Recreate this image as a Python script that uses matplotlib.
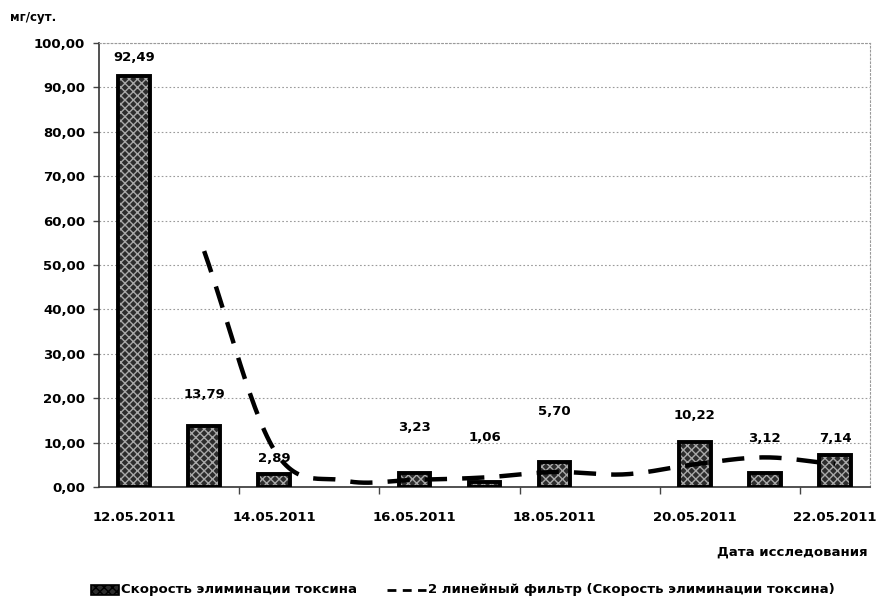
import numpy as np
import matplotlib.pyplot as plt
from matplotlib.ticker import FuncFormatter, FixedLocator

plt.rcParams['font.family'] = ['DejaVu Sans']
plt.rcParams['font.weight'] = 'bold'

# measurement days (index 0 = 12.05.2011), missing days have no bar
days = [0, 1, 2, 4, 5, 6, 8, 9, 10]
values = [92.49, 13.79, 2.89, 3.23, 1.06, 5.70, 10.22, 3.12, 7.14]
date_labels = ['12.05.2011', '14.05.2011', '16.05.2011',
               '18.05.2011', '20.05.2011', '22.05.2011']

# 2-point moving average (empty days counted as zero)
ma_days = [1, 2, 3, 4, 5, 6, 7, 8, 9, 10]
ma_values = [53.14, 8.34, 1.45, 1.62, 2.15, 3.38, 2.85, 5.11, 6.67, 5.13]

# how far each value label sits above its bar (y units), moved clear of the line
label_lift = [4.3, 7.0, 3.6, 10.1, 10.1, 11.3, 5.9, 7.9, 3.8]


def smooth(x, y, n=30):
    # Catmull-Rom spline through the points, like Excel's smoothed line
    x = np.asarray(x, float)
    y = np.asarray(y, float)
    px = np.concatenate([[2 * x[0] - x[1]], x, [2 * x[-1] - x[-2]]])
    py = np.concatenate([[2 * y[0] - y[1]], y, [2 * y[-1] - y[-2]]])
    xs, ys = [], []
    t = np.linspace(0, 1, n)
    for i in range(1, len(px) - 2):
        for p, out in ((px, xs), (py, ys)):
            p0, p1, p2, p3 = p[i - 1], p[i], p[i + 1], p[i + 2]
            out.append(0.5 * (2 * p1 + (-p0 + p2) * t
                              + (2 * p0 - 5 * p1 + 4 * p2 - p3) * t ** 2
                              + (-p0 + 3 * p1 - 3 * p2 + p3) * t ** 3))
    return np.concatenate(xs), np.concatenate(ys)


fig = plt.figure(figsize=(8.78, 6.05), dpi=100)
ax = fig.add_axes([99 / 878, 118 / 605, 771 / 878, 444 / 605])

# textured bars: dark fill with light cross hatching, then a thick outline
ax.bar(days, values, width=0.45, color='#2c2c2c', edgecolor='#a8a8a8',
       hatch='xxxx', linewidth=0, zorder=2)
ax.bar(days, values, width=0.45, fill=False, edgecolor='black',
       linewidth=2.8, zorder=3)

for d, v, lift in zip(days, values, label_lift):
    ax.text(d, v + lift, f'{v:.2f}'.replace('.', ','), ha='center',
            va='center', fontsize=9.5, fontweight='bold', zorder=5)

sx, sy = smooth(ma_days, ma_values)
ax.plot(sx, sy, color='black', linewidth=3.2, dashes=(5, 3.4), zorder=4)

ax.set_xlim(-0.5, 10.5)
ax.set_ylim(0, 100)
ax.yaxis.set_major_locator(FixedLocator(np.arange(0, 101, 10)))
ax.yaxis.set_major_formatter(FuncFormatter(lambda v, p: f'{v:.2f}'.replace('.', ',')))
ax.set_xticks([0, 2, 4, 6, 8, 10])
ax.set_xticklabels(date_labels)
ax.set_xticks([1.5, 3.5, 5.5, 7.5, 9.5], minor=True)
ax.tick_params(axis='x', which='major', length=0, pad=17, labelsize=9.5)
ax.tick_params(axis='x', which='minor', length=5, width=1, color='#444')
ax.tick_params(axis='y', length=4, width=1, color='#444', labelsize=9.5, pad=6)

ax.grid(axis='y', color='#9a9a9a', linestyle=(0, (1.5, 2)), linewidth=0.8, zorder=0)
for side in ('top', 'right'):
    ax.spines[side].set_color('#9a9a9a')
    ax.spines[side].set_linestyle((0, (1.5, 2)))
    ax.spines[side].set_linewidth(0.8)
for side in ('left', 'bottom'):
    ax.spines[side].set_color('#333')
    ax.spines[side].set_linewidth(1.2)

fig.text(10 / 878, 1 - 18 / 605, 'мг/сут.', fontsize=8.5, fontweight='bold',
         va='center', ha='left')
fig.text(868 / 878, 1 - 552 / 605, 'Дата исследования', fontsize=9.5,
         fontweight='bold', va='center', ha='right')

# legend row along the bottom
ly = 1 - 590 / 605
fig.patches.append(plt.Rectangle((91 / 878, ly - 0.009), 28 / 878, 0.017,
                                 transform=fig.transFigure, facecolor='#2c2c2c',
                                 edgecolor='black', hatch='xxxx', linewidth=1.2))
fig.text(121 / 878, ly, 'Скорость элиминации токсина', fontsize=9.5,
         fontweight='bold', va='center', ha='left')
fig.lines.append(plt.Line2D([387 / 878, 426 / 878], [ly, ly], transform=fig.transFigure,
                            color='black', linewidth=2, dashes=(3.2, 2.3)))
fig.text(428 / 878, ly, '2 линейный фильтр (Скорость элиминации токсина)',
         fontsize=9.5, fontweight='bold', va='center', ha='left')

fig.savefig('out.png', dpi=100)
